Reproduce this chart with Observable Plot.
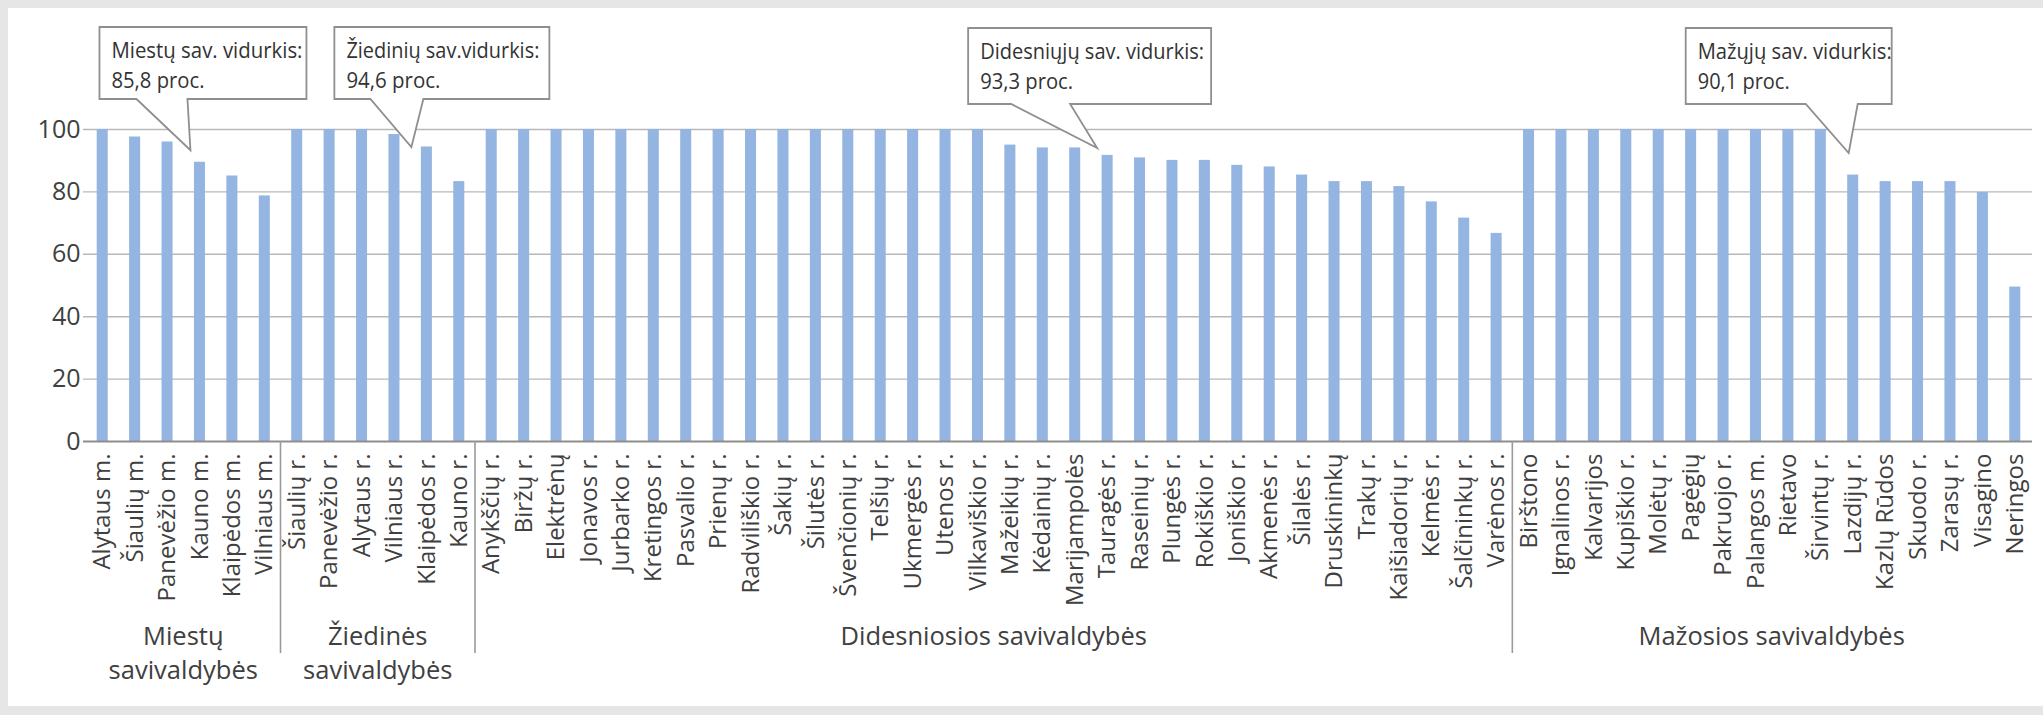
<!DOCTYPE html>
<html>
<head>
<meta charset="utf-8">
<script src="https://cdn.jsdelivr.net/npm/d3@7"></script>
<script src="https://cdn.jsdelivr.net/npm/@observablehq/plot@0.6"></script>
<style>
  html, body { margin: 0; padding: 0; }
  body { width: 2043px; height: 715px; background: #e6e6e6; position: relative; overflow: hidden; font-family: "Open Sans", sans-serif; }
  #panel { position: absolute; left: 8px; top: 8px; right: 0; height: 698px; background: #ffffff; }
  #chart { position: absolute; left: 0; top: 0; }
</style>
</head>
<body>
<div id="panel"></div>
<div id="chart"></div>
<script>
// ---- data ----
const groupNames = ["Miestų\nsavivaldybės", "Žiedinės\nsavivaldybės", "Didesniosios savivaldybės", "Mažosios savivaldybės"];

const cityNames = ["Alytaus m.", "Šiaulių m.", "Panevėžio m.", "Kauno m.", "Klaipėdos m.", "Vilniaus m."];
const cityValues = [100, 97.6, 96.0, 89.5, 85.1, 78.7];

const ringNames = ["Šiaulių r.", "Panevėžio r.", "Alytaus r.", "Vilniaus r.", "Klaipėdos r.", "Kauno r."];
const ringValues = [100, 100, 100, 98.4, 94.4, 83.3];

const largeNames = ["Anykščių r.", "Biržų r.", "Elektrėnų", "Jonavos r.", "Jurbarko r.", "Kretingos r.", "Pasvalio r.", "Prienų r.", "Radviliškio r.", "Šakių r.", "Šilutės r.", "Švenčionių r.", "Telšių r.", "Ukmergės r.", "Utenos r.", "Vilkaviškio r.", "Mažeikių r.", "Kėdainių r.", "Marijampolės", "Tauragės r.", "Raseinių r.", "Plungės r.", "Rokiškio r.", "Joniškio r.", "Akmenės r.", "Šilalės r.", "Druskininkų", "Trakų r.", "Kaišiadorių r.", "Kelmės r.", "Šalčininkų r.", "Varėnos r."];
const largeValues = [100, 100, 100, 100, 100, 100, 100, 100, 100, 100, 100, 100, 100, 100, 100, 100, 95.0, 94.1, 94.1, 91.7, 90.9, 90.1, 90.1, 88.5, 88.0, 85.4, 83.3, 83.3, 81.7, 76.8, 71.6, 66.7];

const smallNames = ["Birštono", "Ignalinos r.", "Kalvarijos", "Kupiškio r.", "Molėtų r.", "Pagėgių", "Pakruojo r.", "Palangos m.", "Rietavo", "Širvintų r.", "Lazdijų r.", "Kazlų Rūdos", "Skuodo r.", "Zarasų r.", "Visagino", "Neringos"];
const smallValues = [100, 100, 100, 100, 100, 100, 100, 100, 100, 100, 85.4, 83.3, 83.3, 83.3, 79.8, 49.5];

const yTicks = [0, 20, 40, 60, 80, 100];

const calloutTitles = ["Miestų sav. vidurkis:", "Žiedinių sav.vidurkis:", "Didesniųjų sav. vidurkis:", "Mažųjų sav. vidurkis:"];
const calloutValues = ["85,8 proc.", "94,6 proc.", "93,3 proc.", "90,1 proc."];
const calloutTargets = ["Kauno m.", "Klaipėdos r.", "Tauragės r.", "Lazdijų r."];
const calloutTipValues = [93.2, 94.2, 93.9, 92.3];

// ---- table built from arrays ----
const groups = [
  {name: groupNames[0], cats: cityNames, vals: cityValues},
  {name: groupNames[1], cats: ringNames, vals: ringValues},
  {name: groupNames[2], cats: largeNames, vals: largeValues},
  {name: groupNames[3], cats: smallNames, vals: smallValues}
];
const data = groups.flatMap(g => g.cats.map((c, i) => ({name: c, value: g.vals[i], group: g.name})));
const order = data.map(d => d.name);

// ---- style / layout ----
const W = 2043, H = 715;
const BAR = "#94b5e1";
const TEXT = "#404040";
const FONT = "Open Sans";

const plot = Plot.plot({
  width: W,
  height: H,
  marginLeft: 86,
  marginRight: 12,
  marginTop: 129,
  marginBottom: 274,
  style: {background: "transparent", fontFamily: FONT, color: TEXT, overflow: "visible"},
  x: {type: "band", domain: order, paddingInner: 0.66, paddingOuter: 0.33, round: false, label: null},
  y: {domain: [0, 100], label: null},
  marks: [
    Plot.ruleY(yTicks.filter(t => t > 0), {y: d => d, stroke: "#b8b8b8", strokeWidth: 1.4, insetLeft: -3, insetRight: -1}),
    Plot.barY(data, {x: "name", y: "value", fill: BAR}),
    Plot.ruleY([0], {stroke: "#8e8e8e", strokeWidth: 2, insetLeft: -3, insetRight: -1}),
    Plot.axisY({ticks: yTicks, tickSize: 0, tickPadding: 6, fontSize: 25, fill: TEXT, label: null}),
    Plot.axisX({tickRotate: -90, tickSize: 0, tickPadding: 12, fontSize: 24, fill: TEXT, label: null})
  ]
});
document.getElementById("chart").appendChild(plot);

// ---- annotations placed through the plot's own scales ----
const xs = plot.scale("x");
const ys = plot.scale("y");
const step = xs.step, bw = xs.bandwidth;
const gap = (step - bw) / 2;
const svg = d3.select(plot);
const yAxis = ys.apply(0);

// group separators and group labels
const gLayer = svg.append("g");
groups.forEach((g, gi) => {
  const start = xs.apply(g.cats[0]) - gap;
  const end = xs.apply(g.cats[g.cats.length - 1]) + bw + gap;
  if (gi > 0) {
    gLayer.append("line")
      .attr("x1", start).attr("x2", start)
      .attr("y1", yAxis).attr("y2", yAxis + 212)
      .attr("stroke", "#9a9a9a").attr("stroke-width", 1.6);
  }
  const lines = g.name.split("\n");
  const t = gLayer.append("text")
    .attr("text-anchor", "middle")
    .attr("font-family", FONT).attr("font-size", 25.5).attr("fill", TEXT);
  lines.forEach((ln, li) => {
    t.append("tspan").attr("x", (start + end) / 2).attr("y", yAxis + 204 + li * 34).text(ln);
  });
});

// callouts
const calloutLayout = [
  {tipDx: -9,  left: -91,  width: 207, top: 27, bottom: 99,  tailL: -54, tailR: -3, w1: 191, w2: 93},
  {tipDx: -15, left: -77,  width: 215, top: 27, bottom: 99,  tailL: -41, tailR: 12, w1: 193, w2: 94},
  {tipDx: -10, left: -129, width: 243, top: 28, bottom: 104, tailL: -86, tailR: -27, w1: 224, w2: 93},
  {tipDx: -4,  left: -163, width: 206, top: 28, bottom: 104, tailL: -43, tailR: 9, w1: 194, w2: 92}
];
const cLayer = svg.append("g");
calloutTargets.forEach((cat, i) => {
  const L = calloutLayout[i];
  const tx = xs.apply(cat) + bw / 2 + L.tipDx;
  const ty = ys.apply(calloutTipValues[i]);
  const x0 = tx + L.left, x1 = x0 + L.width;
  const path = [
    [x0, L.top], [x1, L.top], [x1, L.bottom],
    [tx + L.tailR, L.bottom], [tx, ty], [tx + L.tailL, L.bottom],
    [x0, L.bottom]
  ];
  cLayer.append("path")
    .attr("d", "M" + path.map(p => p.join(",")).join("L") + "Z")
    .attr("fill", "#ffffff").attr("stroke", "#8f8f8f").attr("stroke-width", 1.8)
    .attr("stroke-linejoin", "miter");
  const tt = cLayer.append("text")
    .attr("text-anchor", "start")
    .attr("font-family", FONT).attr("font-size", 22).attr("fill", "#333333");
  tt.append("tspan").attr("x", x0 + 12).attr("y", L.top + 31)
    .attr("textLength", L.w1).attr("lengthAdjust", "spacingAndGlyphs").text(calloutTitles[i]);
  tt.append("tspan").attr("x", x0 + 12).attr("y", L.top + 61)
    .attr("textLength", L.w2).attr("lengthAdjust", "spacingAndGlyphs").text(calloutValues[i]);
});
</script>
</body>
</html>
